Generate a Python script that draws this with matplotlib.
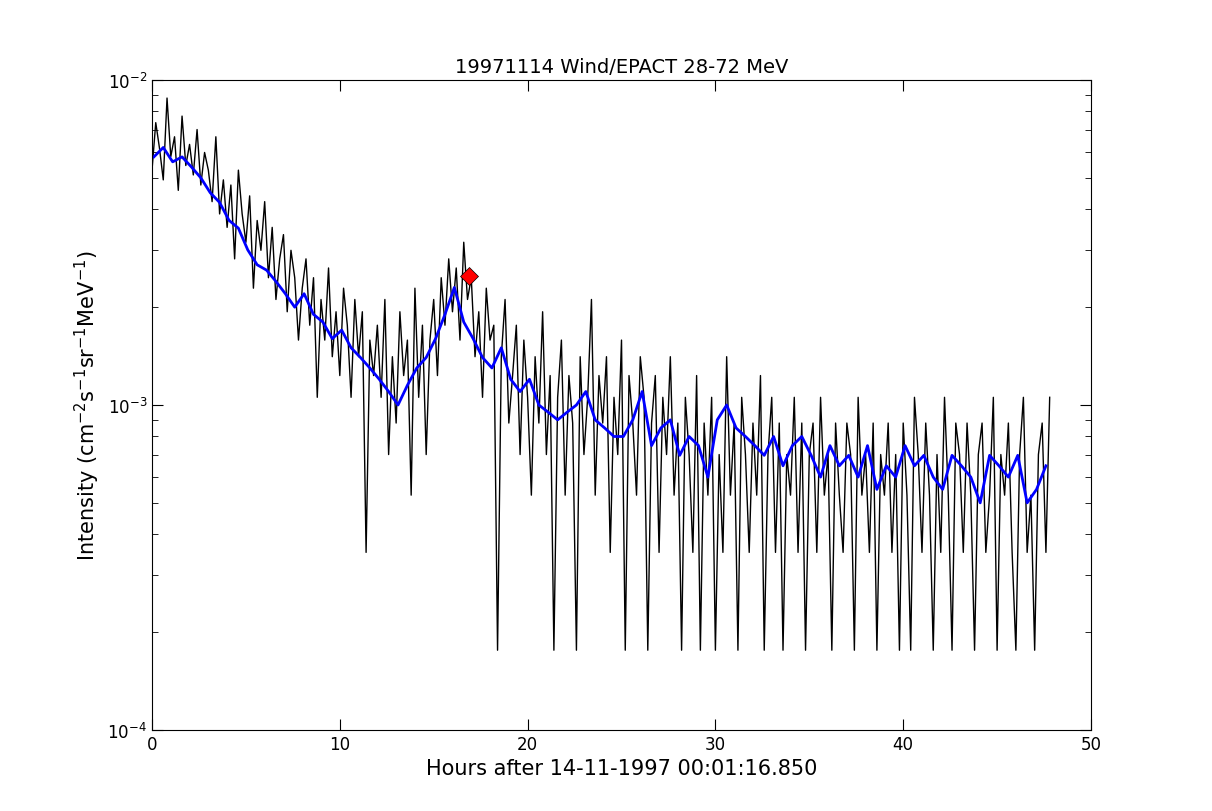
import numpy as np
import matplotlib
matplotlib.use("Agg")
import matplotlib.pyplot as plt

# counts per 0.2 h bin (intensity = counts * unit)
unit = 1.76e-4
counts = [
    30, 42, 35, 28, 50, 33, 38, 26, 44, 31, 36, 29, 40, 27, 34, 30, 24, 38, 22, 28,
    20, 27, 16, 30, 22, 18, 25, 13, 21, 17, 24, 14, 20, 12, 16, 19, 11, 17, 14, 9,
    13, 16, 10, 14, 6, 12, 9, 15, 8, 11, 7, 13, 10, 6, 12, 8, 11, 2, 9, 7,
    10, 6, 12, 4, 8, 5, 11, 7, 9, 3, 13, 6, 10, 4, 9, 12, 7, 14, 10, 16,
    11, 15, 9, 18, 12, 14, 8, 11, 6, 13, 9, 10, 1, 8, 12, 5, 7, 10, 4, 9,
    6, 3, 8, 5, 11, 4, 7, 1, 6, 9, 3, 7, 5, 1, 8, 4, 6, 12, 3, 7,
    5, 8, 2, 6, 4, 9, 1, 7, 5, 3, 8, 6, 1, 5, 7, 2, 6, 4, 8, 3,
    5, 1, 6, 4, 2, 7, 1, 5, 3, 6, 1, 4, 2, 8, 3, 5, 1, 6, 4, 2,
    5, 3, 7, 1, 4, 6, 2, 5, 1, 4, 3, 6, 2, 5, 1, 4, 5, 2, 6, 3,
    4, 1, 5, 3, 2, 5, 4, 1, 6, 3, 4, 2, 5, 1, 4, 3, 5, 2, 4, 1,
    5, 3, 1, 6, 4, 2, 5, 3, 1, 4, 2, 6, 3, 1, 5, 4, 2, 5, 3, 1,
    4, 5, 2, 3, 6, 1, 4, 3, 5, 2, 1, 4, 6, 2, 3, 1, 4, 5, 2, 6,
]
hours = np.arange(len(counts)) * 0.2

# smoothed intensity (1e-3 units) every 0.5 h
smooth = [
    5.8, 6.2, 5.6, 5.8, 5.4, 5.0, 4.5, 4.2, 3.7, 3.5,
    3.0, 2.7, 2.6, 2.4, 2.2, 2.0, 2.2, 1.9, 1.8, 1.6,
    1.7, 1.5, 1.4, 1.3, 1.2, 1.1, 1.0, 1.15, 1.3, 1.4,
    1.6, 1.9, 2.3, 1.8, 1.6, 1.4, 1.3, 1.5, 1.2, 1.1,
    1.2, 1.0, 0.95, 0.9, 0.95, 1.0, 1.1, 0.9, 0.85, 0.8,
    0.8, 0.9, 1.1, 0.75, 0.85, 0.9, 0.7, 0.8, 0.75, 0.6,
    0.9, 1.0, 0.85, 0.8, 0.75, 0.7, 0.8, 0.65, 0.75, 0.8,
    0.7, 0.6, 0.75, 0.65, 0.7, 0.6, 0.75, 0.55, 0.65, 0.6,
    0.75, 0.65, 0.7, 0.6, 0.55, 0.7, 0.65, 0.6, 0.5, 0.7,
    0.65, 0.6, 0.7, 0.5, 0.55, 0.65,
]
smooth_hours = np.arange(len(smooth)) * 0.5 + 0.1

peak_t, peak_i = 16.9, 2.5e-3

fig = plt.figure(figsize=(12.12, 8.12), dpi=100)
ax = fig.add_axes([152 / 1212, 1 - 731 / 812, 939 / 1212, 650 / 812])
ax.plot(hours, np.array(counts) * unit, color="black", lw=1.0)
ax.plot(smooth_hours, np.array(smooth) * 1e-3, color="blue", lw=2.0)
ax.plot([peak_t], [peak_i], marker="D", color="red", markersize=9, mec="black", mew=0.5)
ax.set_yscale("log")
ax.set_xlim(0, 50)
ax.set_ylim(1e-4, 1e-2)
ax.tick_params(which="both", direction="in", top=True, right=True, labelsize=12)
ax.tick_params(which="major", length=8)
ax.tick_params(which="minor", length=4)
ax.set_title("19971114 Wind/EPACT 28-72 MeV", fontsize=14)
ax.set_xlabel("Hours after 14-11-1997 00:01:16.850", fontsize=15)
ax.set_ylabel(r"Intensity (cm$^{-2}$s$^{-1}$sr$^{-1}$MeV$^{-1}$)", fontsize=15)
fig.savefig("out.png", dpi=100)
